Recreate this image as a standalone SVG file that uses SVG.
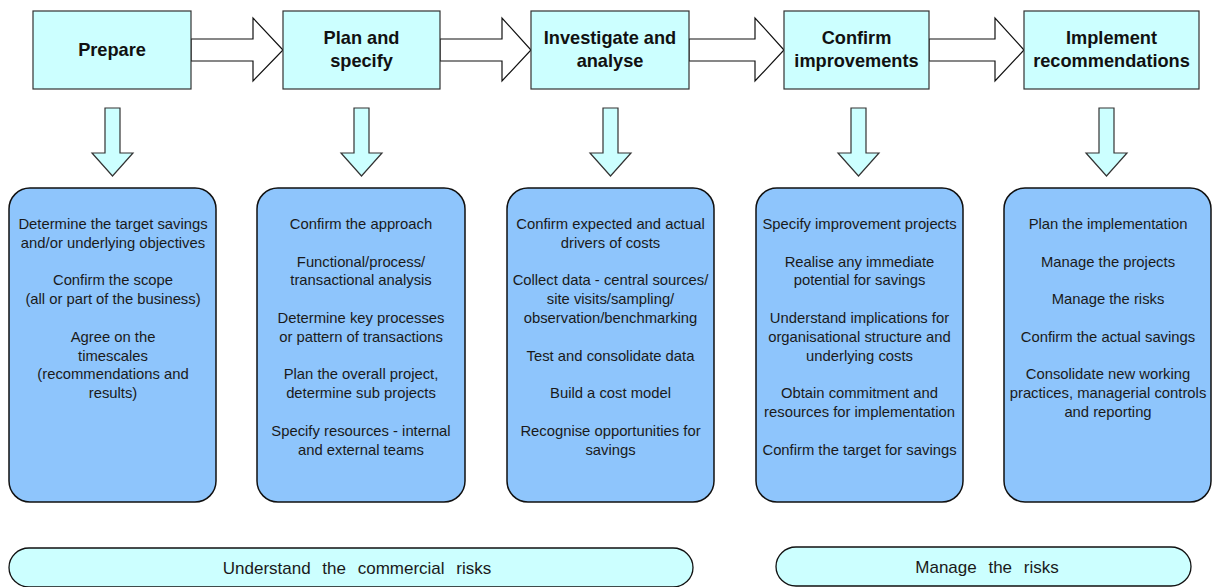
<svg xmlns="http://www.w3.org/2000/svg" width="1214" height="587" viewBox="0 0 1214 587">
<style>
.step{fill:#CCFFFF;stroke:#333;stroke-width:1.2}
.box{fill:#8EC5FC;stroke:#111;stroke-width:1.5}
.pill{fill:#CCFFFF;stroke:#111;stroke-width:1.3}
.rarrow{fill:#fff;stroke:#111;stroke-width:1.2}
.darrow{fill:#CCFFFF;stroke:#333;stroke-width:1.2}
.h{font-family:"Liberation Sans",Arial,sans-serif;font-weight:bold;font-size:18.2px;fill:#111;text-anchor:middle}
.t{font-family:"Liberation Sans",Arial,sans-serif;font-size:14.8px;fill:#1a1a1a;text-anchor:middle}
.p{font-family:"Liberation Sans",Arial,sans-serif;font-size:17px;fill:#1a1a1a;text-anchor:middle}
</style>
<rect width="1214" height="587" fill="#fff"/>
<g id="connectors">
<polygon class="rarrow" points="191,39 253,39 253,18 283,50 253,81 253,61 191,61"/>
<polygon class="rarrow" points="440,39 502,39 502,18 531,50 502,81 502,61 440,61"/>
<polygon class="rarrow" points="689,39 755,39 755,18 784,50 755,81 755,61 689,61"/>
<polygon class="rarrow" points="929,39 995,39 995,18 1024,50 995,81 995,61 929,61"/>
<polygon class="darrow" points="105,108 120,108 120,153 133,153 112.5,176 92,153 105,153"/>
<polygon class="darrow" points="354,108 369,108 369,153 382,153 361.5,176 341,153 354,153"/>
<polygon class="darrow" points="603,108 618,108 618,153 631,153 610.5,176 590,153 603,153"/>
<polygon class="darrow" points="851,108 866,108 866,153 879,153 858.5,176 838,153 851,153"/>
<polygon class="darrow" points="1099,108 1114,108 1114,153 1127,153 1106.5,176 1086,153 1099,153"/>
</g>
<g id="prepare">
<rect class="step" x="33" y="11" width="158" height="78"/>
<text class="h" x="112" y="56">Prepare</text>
</g>
<g id="plan">
<rect class="step" x="283" y="11" width="157" height="78"/>
<text class="h" x="361.5" y="44">Plan and</text>
<text class="h" x="361.5" y="67">specify</text>
</g>
<g id="investigate">
<rect class="step" x="531" y="11" width="158" height="78"/>
<text class="h" x="610" y="44">Investigate and</text>
<text class="h" x="610" y="67">analyse</text>
</g>
<g id="confirm">
<rect class="step" x="784" y="11" width="145" height="78"/>
<text class="h" x="856.5" y="44">Confirm</text>
<text class="h" x="856.5" y="67">improvements</text>
</g>
<g id="implement">
<rect class="step" x="1024" y="11" width="175" height="78"/>
<text class="h" x="1111.5" y="44">Implement</text>
<text class="h" x="1111.5" y="67">recommendations</text>
</g>
<g id="prepare-tasks">
<rect class="box" x="9" y="188" width="207" height="314" rx="21"/>
<text class="t" x="113" y="229">Determine the target savings</text>
<text class="t" x="113" y="247.8">and/or underlying objectives</text>
<text class="t" x="113" y="285.4">Confirm the scope</text>
<text class="t" x="113" y="304.2">(all or part of the business)</text>
<text class="t" x="113" y="341.8">Agree on the</text>
<text class="t" x="113" y="360.6">timescales</text>
<text class="t" x="113" y="379.4">(recommendations and</text>
<text class="t" x="113" y="398.2">results)</text>
</g>
<g id="plan-tasks">
<rect class="box" x="257" y="188" width="208" height="314" rx="21"/>
<text class="t" x="361" y="229">Confirm the approach</text>
<text class="t" x="361" y="266.6">Functional/process/</text>
<text class="t" x="361" y="285.4">transactional analysis</text>
<text class="t" x="361" y="323">Determine key processes</text>
<text class="t" x="361" y="341.8">or pattern of transactions</text>
<text class="t" x="361" y="379.4">Plan the overall project,</text>
<text class="t" x="361" y="398.2">determine sub projects</text>
<text class="t" x="361" y="435.8">Specify resources - internal</text>
<text class="t" x="361" y="454.6">and external teams</text>
</g>
<g id="investigate-tasks">
<rect class="box" x="507" y="188" width="207" height="314" rx="21"/>
<text class="t" x="610.5" y="229">Confirm expected and actual</text>
<text class="t" x="610.5" y="247.8">drivers of costs</text>
<text class="t" x="610.5" y="285.4">Collect data - central sources/</text>
<text class="t" x="610.5" y="304.2">site visits/sampling/</text>
<text class="t" x="610.5" y="323">observation/benchmarking</text>
<text class="t" x="610.5" y="360.6">Test and consolidate data</text>
<text class="t" x="610.5" y="398.2">Build a cost model</text>
<text class="t" x="610.5" y="435.8">Recognise opportunities for</text>
<text class="t" x="610.5" y="454.6">savings</text>
</g>
<g id="confirm-tasks">
<rect class="box" x="756" y="188" width="207" height="314" rx="21"/>
<text class="t" x="859.5" y="229">Specify improvement projects</text>
<text class="t" x="859.5" y="266.6">Realise any immediate</text>
<text class="t" x="859.5" y="285.4">potential for savings</text>
<text class="t" x="859.5" y="323">Understand implications for</text>
<text class="t" x="859.5" y="341.8">organisational structure  and</text>
<text class="t" x="859.5" y="360.6">underlying costs</text>
<text class="t" x="859.5" y="398.2">Obtain commitment and</text>
<text class="t" x="859.5" y="417">resources for implementation</text>
<text class="t" x="859.5" y="454.6">Confirm the target for savings</text>
</g>
<g id="implement-tasks">
<rect class="box" x="1004" y="188" width="207" height="314" rx="21"/>
<text class="t" x="1108" y="229">Plan the implementation</text>
<text class="t" x="1108" y="266.6">Manage the projects</text>
<text class="t" x="1108" y="304.2">Manage the risks</text>
<text class="t" x="1108" y="341.8">Confirm the actual savings</text>
<text class="t" x="1108" y="379.4">Consolidate new working</text>
<text class="t" x="1108" y="398.2">practices, managerial controls</text>
<text class="t" x="1108" y="417">and reporting</text>
</g>
<g id="commercial-risks">
<rect class="pill" x="9" y="548" width="684" height="39" rx="20"/>
<text class="p" x="357" y="574" word-spacing="7">Understand the commercial risks</text>
</g>
<g id="manage-risks">
<rect class="pill" x="776" y="547" width="415" height="39" rx="20"/>
<text class="p" x="987" y="573" word-spacing="7">Manage the risks</text>
</g>
</svg>
